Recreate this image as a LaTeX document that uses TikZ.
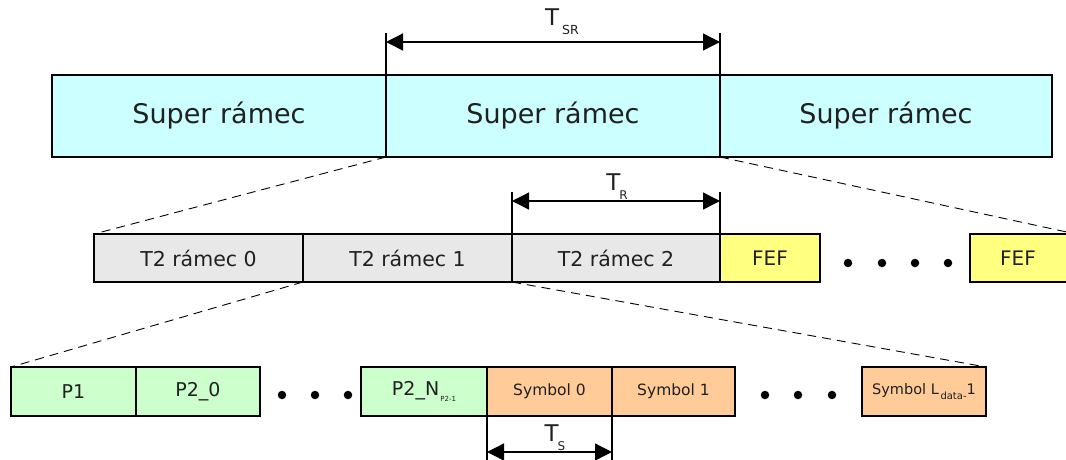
\documentclass[tikz,border=0pt]{standalone}
\usepackage{fontspec}
\setmainfont{DejaVu Sans}
\usetikzlibrary{arrows.meta}
\definecolor{cyanf}{HTML}{CCFFFF}
\definecolor{greyf}{HTML}{E8E8E8}
\definecolor{yellowf}{HTML}{FFFF80}
\definecolor{greenf}{HTML}{CCFFCC}
\definecolor{orangef}{HTML}{FFCC99}
\definecolor{txt}{HTML}{202020}
\begin{document}
\begin{tikzpicture}[x=1pt,y=-1pt,
  box/.style={draw=black, line width=1.3pt, rectangle, anchor=north west, inner sep=0pt, outer sep=0pt, text=txt},
  srbox/.style={box, fill=cyanf, minimum height=82pt, font=\fontsize{27}{32}\selectfont},
  frbox/.style={box, fill=greyf, minimum height=48pt, font=\fontsize{20.5}{24}\selectfont},
  fefbox/.style={box, fill=yellowf, minimum height=48pt, font=\fontsize{20}{24}\selectfont},
  pbox/.style={box, fill=greenf, minimum height=49pt, font=\fontsize{19}{23}\selectfont},
  symbox/.style={box, fill=orangef, minimum height=49pt, font=\fontsize{15.5}{19}\selectfont},
  dotnode/.style={circle, fill=black, inner sep=0pt, minimum size=8.5pt},
  zoomline/.style={dashed, dash pattern=on 9pt off 6pt, line width=0.9pt},
  tick/.style={line width=1.1pt},
  dim/.style={line width=1.3pt, {Triangle[length=17pt,width=17pt]}-{Triangle[length=17pt,width=17pt]}},
  tlabel/.style={text=txt, font=\fontsize{23}{27}\selectfont, inner sep=0pt},
]
\useasboundingbox (0,0) rectangle (1066,459);

% top row
\node[srbox, minimum width=334pt] (sr1) at (52,75) {Super rámec};
\node[srbox, minimum width=334pt] (sr2) at (386,75) {Super rámec};
\node[srbox, minimum width=332pt] (sr3) at (720,75) {Super rámec};

% middle row
\node[frbox, minimum width=209pt] (f0) at (94,234) {T2 rámec 0};
\node[frbox, minimum width=209pt] (f1) at (303,234) {T2 rámec 1};
\node[frbox, minimum width=208pt] (f2) at (512,234) {T2 rámec 2};
\node[fefbox, minimum width=100pt] (fef1) at (720,234) {FEF};
\node[fefbox, minimum width=106pt] (fef2) at (970,234) {\hspace*{-2pt}FEF\hspace*{8pt}};
\node[dotnode] (m1) at (848,263) {};
\node[dotnode] (m2) at (882,263) {};
\node[dotnode] (m3) at (915,263) {};
\node[dotnode] (m4) at (948,263) {};

% bottom row
\node[pbox, minimum width=125pt] (p1) at (11,367) {P1};
\node[pbox, minimum width=124pt] (p20) at (136,367) {P2\_0};
\node[dotnode] (b1) at (282,395) {};
\node[dotnode] (b2) at (315,395) {};
\node[dotnode] (b3) at (348,395) {};
\node[pbox, minimum width=126pt] (p2n) at (361,367) {P2\_N\raisebox{-6pt}{\fontsize{7}{8}\selectfont\,P2-1}};
\node[symbox, minimum width=125pt] (s0) at (487,367) {Symbol 0};
\node[symbox, minimum width=123pt] (s1) at (612,367) {Symbol 1};
\node[dotnode] (b4) at (765,395) {};
\node[dotnode] (b5) at (798,395) {};
\node[dotnode] (b6) at (832,395) {};
\node[symbox, minimum width=124pt, font=\fontsize{14.5}{18}\selectfont] (sl) at (862,367) {Symbol L\raisebox{-5pt}{\fontsize{10}{12}\selectfont\,data-}1};

% zoom lines
\draw[zoomline] (sr2.south west) -- (f0.north west);
\draw[zoomline] (sr2.south east) -- (fef2.north east);
\draw[zoomline] (f1.south west) -- (p1.north west);
\draw[zoomline] (f1.south east) -- (sl.north east);

% T_SR
\draw[tick] (sr2.north west) -- ([yshift=42pt]sr2.north west) coordinate (tsrL);
\draw[tick] (sr2.north east) -- ([yshift=42pt]sr2.north east) coordinate (tsrR);
\draw[dim] ([yshift=33pt]sr2.north west) -- ([yshift=33pt]sr2.north east);
\node[tlabel] (tsr) at (562,22) {T\kern3pt\raisebox{-9pt}{\fontsize{12.5}{15}\selectfont SR}};

% T_R
\draw[tick] (f2.north west) -- ([yshift=42pt]f2.north west) coordinate (trL);
\draw[tick] (f2.north east) -- ([yshift=42pt]f2.north east) coordinate (trR);
\draw[dim] ([yshift=33pt]f2.north west) -- ([yshift=33pt]f2.north east);
\node[tlabel] (tr) at (617,187) {T\kern-1pt\raisebox{-9pt}{\fontsize{12}{14}\selectfont R}};

% T_S
\draw[tick] (s0.south west) -- ([yshift=-46pt]s0.south west) coordinate (tsL);
\draw[tick] (s0.south east) -- ([yshift=-46pt]s0.south east) coordinate (tsR);
\draw[dim] ([yshift=-36pt]s0.south west) -- ([yshift=-36pt]s0.south east);
\node[tlabel] (ts) at (555,438) {T\kern-1pt\raisebox{-9pt}{\fontsize{12}{14}\selectfont S}};
\end{tikzpicture}
\end{document}
